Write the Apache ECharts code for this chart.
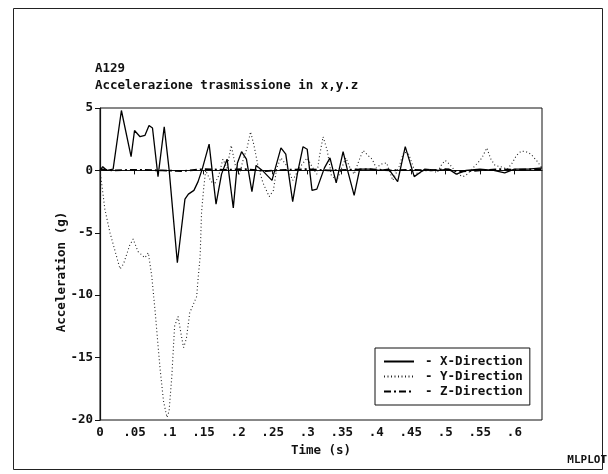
<!DOCTYPE html>
<html>
<head>
<meta charset="utf-8">
<script src="https://cdn.jsdelivr.net/npm/echarts@6.0.0/dist/echarts.min.js"></script>
<style>
  html, body { margin: 0; padding: 0; background: #fff; }
  #chart { width: 608px; height: 474px; }
</style>
</head>
<body>
<div id="chart"></div>
<script>
// Acceleration traces of the transmission (g) against time (s)
const xTime = [0, 0.004, 0.010, 0.019, 0.031, 0.045, 0.050, 0.058, 0.065, 0.071, 0.076, 0.084, 0.093, 0.100, 0.112, 0.123, 0.128, 0.136, 0.142, 0.148, 0.158, 0.168, 0.176, 0.184, 0.193, 0.199, 0.205, 0.212, 0.220, 0.226, 0.235, 0.249, 0.262, 0.269, 0.279, 0.286, 0.294, 0.300, 0.307, 0.314, 0.325, 0.333, 0.342, 0.352, 0.358, 0.368, 0.376, 0.390, 0.405, 0.418, 0.431, 0.442, 0.455, 0.470, 0.490, 0.505, 0.516, 0.530, 0.550, 0.570, 0.586, 0.600, 0.620, 0.640];
const xAccel = [0, 0.3, 0, 0.1, 4.8, 1.1, 3.2, 2.7, 2.8, 3.6, 3.4, -0.5, 3.5, 0.1, -7.4, -2.3, -1.9, -1.6, -0.9, 0.1, 2.1, -2.7, -0.3, 0.9, -3.0, 0.6, 1.5, 0.9, -1.7, 0.4, 0, -0.8, 1.8, 1.3, -2.5, -0.2, 1.9, 1.7, -1.6, -1.5, 0.2, 1.0, -1.0, 1.5, 0.1, -2.0, 0.1, 0.1, 0, 0.1, -0.9, 1.9, -0.5, 0.1, 0, 0.1, -0.3, 0, 0.1, 0, -0.2, 0.1, 0.1, 0.2];

const yTime = [0, 0.003, 0.007, 0.0145, 0.022, 0.029, 0.034, 0.043, 0.048, 0.055, 0.065, 0.070, 0.075, 0.080, 0.084, 0.087, 0.092, 0.097, 0.100, 0.104, 0.108, 0.113, 0.118, 0.121, 0.125, 0.130, 0.140, 0.142, 0.145, 0.147, 0.150, 0.153, 0.158, 0.165, 0.172, 0.178, 0.184, 0.190, 0.196, 0.202, 0.208, 0.213, 0.218, 0.223, 0.229, 0.236, 0.245, 0.251, 0.256, 0.262, 0.270, 0.279, 0.290, 0.300, 0.307, 0.314, 0.318, 0.323, 0.329, 0.335, 0.343, 0.350, 0.356, 0.362, 0.368, 0.375, 0.381, 0.388, 0.394, 0.400, 0.407, 0.415, 0.424, 0.433, 0.440, 0.447, 0.454, 0.460, 0.470, 0.480, 0.488, 0.495, 0.500, 0.506, 0.512, 0.518, 0.526, 0.532, 0.540, 0.547, 0.553, 0.560, 0.566, 0.572, 0.580, 0.590, 0.597, 0.603, 0.610, 0.617, 0.624, 0.632, 0.640];
const yAccel = [0, -1.3, -3.1, -5.0, -6.5, -7.9, -7.5, -6.0, -5.5, -6.5, -7.0, -6.6, -8.5, -11.4, -14.0, -15.9, -18.5, -19.8, -19.3, -16.5, -12.5, -11.7, -13.3, -14.2, -13.5, -11.4, -10.1, -8.7, -6.9, -3.4, -1.5, 0, -0.6, -1.2, -0.4, 0.9, 0.2, 2.0, 0.4, -0.3, 1.0, 1.8, 3.1, 2.0, 0.3, -1.0, -2.1, -1.6, 0.2, 1.0, 0.4, -0.8, 0.3, 1.0, 0.3, -0.3, 1.2, 2.7, 1.6, -0.4, -0.8, 0.2, 1.0, 0.2, -0.3, 0.8, 1.6, 1.2, 0.9, 0.2, 0.5, 0.6, -0.8, 0.3, 1.5, 1.3, 0.2, -0.3, 0, 0.1, -0.2, 0.5, 0.8, 0.5, 0.1, -0.3, -0.5, -0.3, 0.2, 0.6, 1.0, 1.8, 0.9, 0.4, 0.3, 0.1, 0.6, 1.2, 1.55, 1.5, 1.3, 0.8, 0.2];

const zTime = [0, 0.02, 0.05, 0.09, 0.12, 0.15, 0.18, 0.21, 0.24, 0.27, 0.30, 0.33, 0.36, 0.39, 0.42, 0.45, 0.48, 0.50, 0.52, 0.55, 0.58, 0.60, 0.64];
const zAccel = [0.1, 0, 0.05, 0, -0.05, 0.1, 0.05, 0.1, -0.05, 0.05, 0.1, 0, 0.05, 0.1, 0, 0.05, 0, 0.1, -0.1, 0, 0.1, 0.05, 0.1];

const seriesNames = ['X-Direction', 'Y-Direction', 'Z-Direction'];
const titleLines = ['A129', 'Accelerazione trasmissione in x,y.z'];
const xAxisName = 'Time (s)';
const yAxisName = 'Acceleration (g)';
const footerText = 'MLPLOT';

const FONT = '"DejaVu Sans Mono", "Liberation Mono", monospace';
const FS = 12.5;
const INK = '#111';

const pairs = (t, v) => t.map((tt, i) => [tt, v[i]]);

function timeLabel(v) {
  const r = Math.round(v * 100);
  if (r % 5 !== 0) return '';
  if (r === 0) return '0';
  let s = (r / 100).toFixed(2).replace(/0+$/, '');
  return s.replace(/^0/, '');
}

const textBase = { fontFamily: FONT, fontSize: FS, fontWeight: 'bold', color: INK };
const gfxFont = 'bold ' + FS + 'px ' + FONT;

const chart = echarts.init(document.getElementById('chart'), null, { renderer: 'canvas' });

chart.setOption({
  animation: false,
  backgroundColor: '#fff',
  textStyle: { fontFamily: FONT, color: INK },
  grid: {
    left: 100, right: 66, top: 108, bottom: 54,
    containLabel: false,
    outerBoundsMode: 'none',
    show: true, borderColor: INK, borderWidth: 1, backgroundColor: 'transparent'
  },
  xAxis: {
    type: 'value', min: 0, max: 0.64, interval: 0.05,
    name: xAxisName, nameLocation: 'middle', nameGap: 20,
    nameTextStyle: textBase,
    axisLine: { show: true, lineStyle: { color: INK, width: 1.2 } },
    axisTick: { show: true, inside: false, length: 4, lineStyle: { color: INK } },
    axisLabel: Object.assign({ margin: 6, formatter: timeLabel, showMaxLabel: false }, textBase),
    splitLine: { show: false }
  },
  yAxis: {
    type: 'value', min: -20, max: 5, interval: 5,
    axisLine: { show: true, onZero: false, lineStyle: { color: INK, width: 1.2 } },
    axisTick: { show: true, inside: false, length: 5, lineStyle: { color: INK } },
    axisLabel: Object.assign({ margin: 7 }, textBase),
    splitLine: { show: false }
  },
  legend: {
    orient: 'vertical',
    left: 375, top: 348,
    padding: [7, 7, 7, 8],
    itemGap: 2,
    itemWidth: 30, itemHeight: 12,
    itemStyle: { opacity: 0 },
    borderColor: INK, borderWidth: 1, backgroundColor: '#fff',
    textStyle: Object.assign({ padding: [0, 0, 0, 6] }, textBase),
    formatter: '- {name}',
    data: seriesNames
  },
  graphic: [
    { type: 'rect', shape: { x: 13.5, y: 8.5, width: 589, height: 461 }, style: { fill: 'none', stroke: '#222', lineWidth: 1 }, silent: true },
    { type: 'text', x: 95, y: 69, style: { text: titleLines[0], font: gfxFont, fill: INK, verticalAlign: 'middle' } },
    { type: 'text', x: 95, y: 86, style: { text: titleLines[1], font: gfxFont, fill: INK, verticalAlign: 'middle' } },
    { type: 'text', x: 62, y: 272, rotation: Math.PI / 2, style: { text: yAxisName, font: gfxFont, fill: INK, align: 'center', verticalAlign: 'middle' } },
    { type: 'text', x: 607, y: 460, style: { text: footerText, font: 'bold 11px ' + FONT, fill: INK, align: 'right', verticalAlign: 'middle' } }
  ],
  series: [
    {
      name: seriesNames[0], type: 'line', data: pairs(xTime, xAccel),
      showSymbol: false, symbol: 'none',
      lineStyle: { color: '#000', width: 1.3, type: 'solid' }
    },
    {
      name: seriesNames[1], type: 'line', data: pairs(yTime, yAccel),
      showSymbol: false, symbol: 'none',
      lineStyle: { color: '#222', width: 1.1, type: [1, 2.5] }
    },
    {
      name: seriesNames[2], type: 'line', data: pairs(zTime, zAccel),
      showSymbol: false, symbol: 'none',
      lineStyle: { color: '#000', width: 1.8, type: [7, 3, 2, 3] }
    }
  ]
});
</script>
</body>
</html>
